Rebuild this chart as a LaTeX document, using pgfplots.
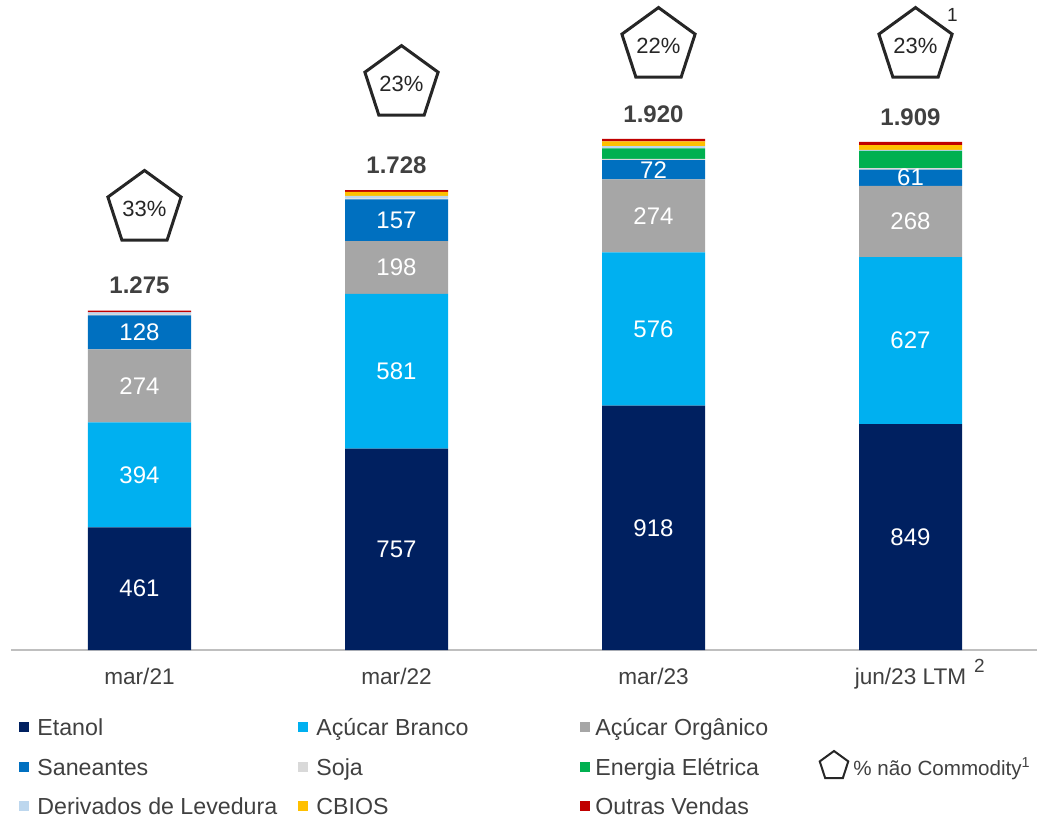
\documentclass[border=0pt]{standalone}
\usepackage{fontspec}
\setmainfont{Liberation Sans}
\usepackage{pgfplots}
\pgfplotsset{compat=1.18}
\usetikzlibrary{shapes.geometric}
\definecolor{cEtanol}{HTML}{002060}
\definecolor{cBranco}{HTML}{00B0F0}
\definecolor{cOrg}{HTML}{A6A6A6}
\definecolor{cSan}{HTML}{0070C0}
\definecolor{cSoja}{HTML}{D9D9D9}
\definecolor{cEnergia}{HTML}{00B050}
\definecolor{cDeriv}{HTML}{BDD7EE}
\definecolor{cCBIOS}{HTML}{FFC000}
\definecolor{cOutras}{HTML}{C00000}
\definecolor{textGray}{HTML}{404040}
\definecolor{pentGray}{HTML}{262626}
\definecolor{lineGray}{HTML}{BFBFBF}
\begin{document}
\begin{tikzpicture}[x=0.5pt,y=0.5pt]
\path[use as bounding box] (0,0) rectangle (1037,816);
\pgfplotsset{frame/.style={at={(5.5pt,83pt)}, anchor=south west, scale only axis,
  width=514pt, height=325pt, xmin=-0.5, xmax=3.5, ymin=0, ymax=2442, clip=false}}
\begin{axis}[frame, ybar stacked, bar width=51.5pt,
  axis y line=none, axis x line*=bottom,
  x axis line style={draw=lineGray, line width=1pt, -},
  xtick={0,1,2,3},
  xticklabels={mar/21,mar/22,mar/23,{jun/23 LTM\rlap{\hspace{4pt}\raisebox{6pt}{\fontsize{9.5}{10}\selectfont 2}}}},
  major tick length=0pt,
  xticklabel style={anchor=base, yshift=-17pt, font=\fontsize{11.3}{13}\selectfont, text=textGray}]
\addplot[fill=cEtanol, draw=none] coordinates {(0,461) (1,757) (2,918) (3,849)};
\addplot[fill=cBranco, draw=none] coordinates {(0,394) (1,581) (2,576) (3,627)};
\addplot[fill=cOrg, draw=none] coordinates {(0,274) (1,198) (2,274) (3,268)};
\addplot[fill=cSan, draw=none] coordinates {(0,128) (1,157) (2,72) (3,61)};
\addplot[fill=cSoja, draw=none] coordinates {(0,5) (1,4) (2,5) (3,5)};
\addplot[fill=cEnergia, draw=none] coordinates {(0,0) (1,0) (2,40) (3,65)};
\addplot[fill=cDeriv, draw=none] coordinates {(0,6) (1,9) (2,8) (3,4)};
\addplot[fill=cCBIOS, draw=none] coordinates {(0,0) (1,15) (2,18) (3,18)};
\addplot[fill=cOutras, draw=none, point meta=explicit symbolic, nodes near coords,
  every node near coord/.append style={anchor=center, yshift=13pt,
    font=\fontsize{12}{14}\selectfont\bfseries, text=textGray}]
  coordinates {(0,7)[1.275] (1,7)[1.728] (2,9)[1.920] (3,12)[1.909]};
\end{axis}
\begin{axis}[frame, hide axis]
\addplot[draw=none, mark=none, point meta=explicit symbolic, nodes near coords,
  every node near coord/.style={anchor=center, text=white, font=\fontsize{12}{14}\selectfont}]
  coordinates {(0,230.5)[461] (1,378.5)[757] (2,459)[918] (3,424.5)[849]
  (0,658)[394] (1,1047.5)[581] (2,1206)[576] (3,1162.5)[627]
  (0,992)[274] (1,1437)[198] (2,1631)[274] (3,1610)[268]
  (0,1193)[128] (1,1614.5)[157] (2,1804)[72] (3,1774.5)[61]};
\addplot[draw=none, mark=none, point meta=explicit symbolic, nodes near coords,
  every node near coord/.style={regular polygon, regular polygon sides=5, draw=pentGray,
    line width=1.5pt, minimum size=38pt, inner sep=0pt, anchor=center, xshift=2.5pt,
    text=pentGray, font=\fontsize{11}{13}\selectfont}]
  coordinates {(0,1657)[33\%] (1,2126)[23\%] (2,2269)[22\%] (3,2269)[23\%]};
\node[font=\fontsize{9.5}{10}\selectfont, text=pentGray] at (axis cs:3,2269) [xshift=21pt, yshift=15.5pt] {1};
\end{axis}
% legend
\def\lf{\fontsize{11.6}{13}\selectfont}
\fill[cEtanol] (19,84) rectangle (29,94);
\node[anchor=base west, inner sep=0, font=\lf, text=textGray] at (37,81) {Etanol};
\fill[cBranco] (298,84) rectangle (308,94);
\node[anchor=base west, inner sep=0, font=\lf, text=textGray] at (316,81) {Açúcar Branco};
\fill[cOrg] (580,84) rectangle (590,94);
\node[anchor=base west, inner sep=0, font=\lf, text=textGray] at (595,81) {Açúcar Orgânico};
\fill[cSan] (19,44) rectangle (29,54);
\node[anchor=base west, inner sep=0, font=\lf, text=textGray] at (37,41) {Saneantes};
\fill[cSoja] (298,44) rectangle (308,54);
\node[anchor=base west, inner sep=0, font=\lf, text=textGray] at (316,41) {Soja};
\fill[cEnergia] (580,44) rectangle (590,54);
\node[anchor=base west, inner sep=0, font=\lf, text=textGray] at (595,41) {Energia Elétrica};
\fill[cDeriv] (19,5) rectangle (29,15);
\node[anchor=base west, inner sep=0, font=\lf, text=textGray] at (37,2) {Derivados de Levedura};
\fill[cCBIOS] (298,5) rectangle (308,15);
\node[anchor=base west, inner sep=0, font=\lf, text=textGray] at (316,2) {CBIOS};
\fill[cOutras] (580,5) rectangle (590,15);
\node[anchor=base west, inner sep=0, font=\lf, text=textGray] at (595,2) {Outras Vendas};
\node[regular polygon, regular polygon sides=5, draw=pentGray, line width=1pt,
  minimum size=15pt, inner sep=0pt] at (834,50) {};
\node[anchor=base west, inner sep=0, font=\fontsize{10.3}{12}\selectfont, text=textGray] at (853,41) {\% não Commodity\textsuperscript{1}};
\end{tikzpicture}
\end{document}
